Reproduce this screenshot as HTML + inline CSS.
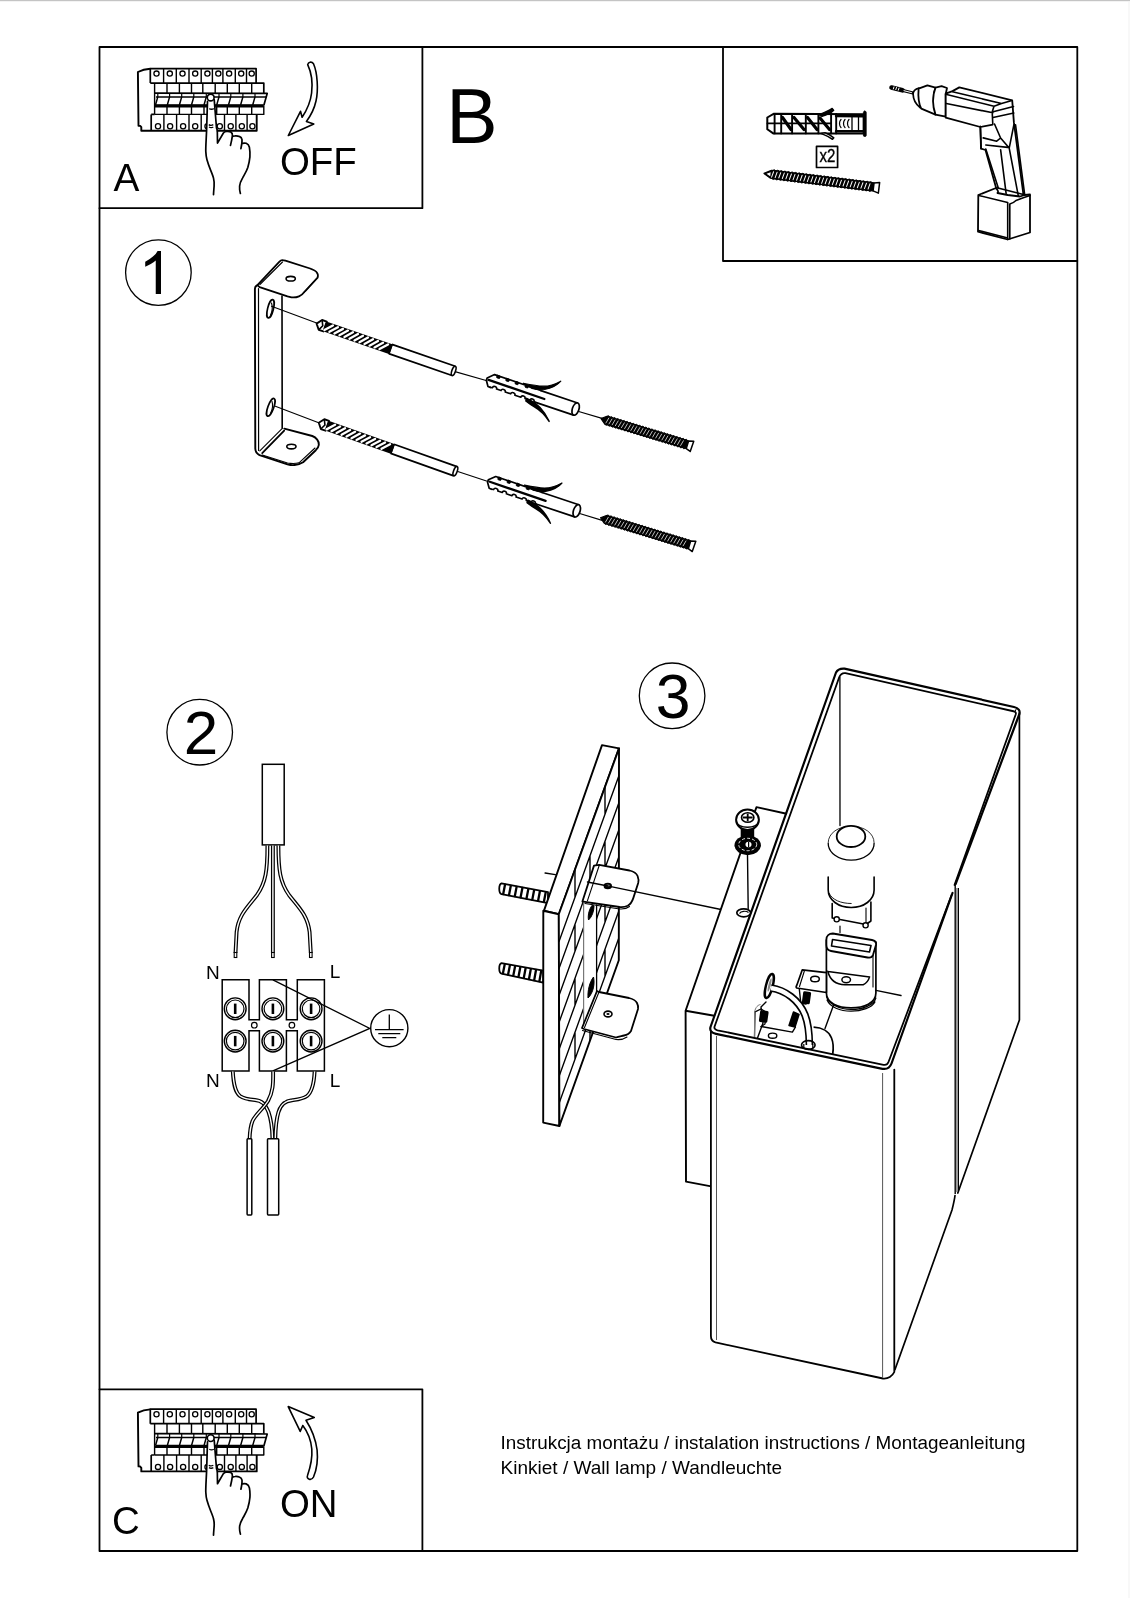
<!DOCTYPE html>
<html><head><meta charset="utf-8"><title>Instrukcja montażu</title>
<style>
html,body{margin:0;padding:0;background:#fff;}
body{width:1130px;height:1600px;overflow:hidden;position:relative;font-family:"Liberation Sans",sans-serif;}
svg{position:absolute;left:0;top:0;}
.t{font-family:"Liberation Sans",sans-serif;fill:#000;}
svg text{will-change:transform;}
</style></head>
<body>
<svg width="1130" height="1600" viewBox="0 0 1130 1600" style="opacity:0.999">
<rect x="0" y="0" width="1130" height="1600" fill="#fff"/>
<rect x="0" y="0" width="1130" height="1.2" fill="#c4c4c4"/>
<rect x="1128" y="2" width="2" height="1596" fill="#f8f8f8"/>
<g fill="none" stroke="#000" stroke-linejoin="round" stroke-linecap="round">
<!-- frames -->
<g id="frames" stroke-width="1.8">
<rect x="99.5" y="47" width="977.8" height="1504"/>
<path d="M99.5 208.2H422.4V47"/>
<path d="M723 47V261H1077.3"/>
<path d="M99.5 1389.3H422.4V1551"/>
</g>
<!-- number circles -->
<g stroke-width="1.3">
<circle cx="158.4" cy="272.6" r="32.8"/>
<circle cx="199.7" cy="732.2" r="32.8"/>
<circle cx="672.1" cy="695.8" r="32.8"/>
</g>
</g>
<g id="panel" fill="none" stroke="#000" stroke-linejoin="round">
<path stroke-width="1.9" d="M150.3,68.8 C145,69.2 141,70.5 137.9,72 L138.5,125.8 L140.2,125.9 L141.3,127.2 L141.3,130.8 L256.7,130.8 L256.7,114.4"/>
<path stroke-width="1.7" d="M150.3,83.1 L150.3,68.6 L256.1,68.6 L256.1,83.1 L263.8,83.1 L263.8,93.2 M150.3,83.1 L256.1,83.1"/>
<path stroke-width="1.4" d="M163.6,68.6 V83.1 M176.3,68.6 V83.1 M189,68.6 V83.1 M201.2,68.6 V83.1 M212.4,68.6 V83.1 M222.9,68.6 V83.1 M235.3,68.6 V83.1 M246.5,68.6 V83.1"/>
<g stroke-width="1.3"><circle cx="156.5" cy="73.6" r="2.6"/><circle cx="169.8" cy="73.6" r="2.6"/><circle cx="182.5" cy="73.6" r="2.6"/><circle cx="195.2" cy="73.6" r="2.6"/><circle cx="207.4" cy="73.6" r="2.6"/><circle cx="218.3" cy="73.6" r="2.6"/><circle cx="229.1" cy="73.6" r="2.6"/><circle cx="241.2" cy="73.6" r="2.6"/><circle cx="251.7" cy="73.6" r="2.6"/></g>
<path stroke-width="1.4" d="M154.6,83.1 V114.4 M167,83.1 V93 M179.4,83.1 V93 M191.5,83.1 V93 M202.8,83.1 V93 M215.2,83.1 V93 M227.3,83.1 V93 M239.3,83.1 V93 M251.7,83.1 V93"/>
<path stroke-width="1.7" d="M154.6,93.1 L267.2,93.4 L263.8,105.6"/>
<path stroke-width="1.5" d="M156,96.9 L266.2,97"/>
<path stroke-width="1.2" d="M157.8,93.3 V96.9 M169.6,93.3 V96.9 M181.7,93.3 V96.9 M193.8,93.3 V96.9 M206.3,93.3 V96.9 M219.0,93.3 V96.9 M230.8,93.3 V96.9 M242.9,93.3 V96.9 M255.0,93.3 V96.9"/>
<path stroke-width="2.6" d="M155,106.1 L263.8,106.1"/>
<path stroke-width="1.2" d="M156,104.8 L263.5,104.8"/>
<path stroke-width="1.5" d="M155.5,105 L157.8,96.9 M167.3,105 L169.60000000000002,96.9 M179.4,105 L181.70000000000002,96.9 M191.5,105 L193.8,96.9 M204,105 L206.3,96.9 M216.7,105 L219.0,96.9 M228.5,105 L230.8,96.9 M240.6,105 L242.9,96.9 M252.7,105 L255.0,96.9"/>
<path stroke-width="1.4" d="M154.6,114.4 L263.8,114.4 L263.8,106 M167,106.5 V114.4 M179.4,106.5 V114.4 M191.5,106.5 V114.4 M204,106.5 V114.4 M216.7,106.5 V114.4 M227.3,106.5 V114.4 M239.3,106.5 V114.4 M251.7,106.5 V114.4"/>
<path stroke-width="1.7" d="M151.2,114.4 L151.2,130.8 M151.2,114.4 L154.6,114.4"/>
<path stroke-width="1.4" d="M163.9,114.4 V130.8 M176.6,114.4 V130.8 M189,114.4 V130.8 M201.2,114.4 V130.8 M212.8,114.4 V130.8 M224.5,114.4 V130.8 M235.9,114.4 V130.8 M247.1,114.4 V130.8"/>
<g stroke-width="1.3"><circle cx="158" cy="126.3" r="2.6"/><circle cx="170.1" cy="126.3" r="2.6"/><circle cx="183.1" cy="126.3" r="2.6"/><circle cx="195.2" cy="126.3" r="2.6"/><circle cx="207.5" cy="126.3" r="2.6"/><circle cx="219.8" cy="126.3" r="2.6"/><circle cx="230.7" cy="126.3" r="2.6"/><circle cx="241.8" cy="126.3" r="2.6"/><circle cx="252.4" cy="126.3" r="2.6"/></g>
<path fill="#fff" stroke="none" d="M207.5,99 L206.6,130.3 L205.8,151.6 C205.7,156 206,158 206.9,159.5 C208,163 209,166 210.6,170.1 C212,173 213,176 213.5,178.1 C214,181 214.2,184 214.1,186.1 L213.5,196 L240.4,196 L239.6,186.1 C240,183 241,181 242.5,178.1 C244,175 246,171 247.8,167.5 C249.5,163 250,160 249.9,156.9 C250,152 250,150 249.4,147.3 C248.5,145 247.5,143.5 246.2,143.3 L242.5,143.1 L242,139.3 C241,137.5 240,136.5 239.3,136.4 L232.7,136.2 L232.4,135.1 C232,133 231.5,132 230.8,131.9 L226.6,131.6 C225,131.8 224,132.2 223.4,133 L217.5,143.1 L214.6,99 Z"/>
<path stroke-width="1.7" stroke-linecap="round" d="M207.5,101.3 L206.6,130.3 C206.2,140 205.6,148 205.8,151.6 C206,155 206.3,157.5 206.9,159.5 C208,163.5 209.2,166.7 210.6,170.1 C212,173.5 213,176 213.5,178.1 C214.2,181 214.3,184 214.1,186.1 C213.9,189 213.6,192 213.5,194.6"/>
<path stroke-width="1.7" stroke-linecap="round" d="M214.2,99.6 L216.5,128 L217.3,130.3 L217.5,143.1 L223.4,133 C224.5,131.7 225.8,131.5 226.6,131.5 C228.5,131.4 230,131.5 230.8,131.9 C232,132.6 232.6,134 232.4,135.6 C232,139 231.2,142.5 230.5,145.4"/>
<path stroke-width="1.7" stroke-linecap="round" d="M232.9,136.4 C233.5,136 234.3,135.9 235,135.9 C236.8,135.8 238.2,135.9 239.3,136.4 C240.8,137 241.8,138 242,139.6 C242.2,142 241.6,145.5 240.9,148.6"/>
<path stroke-width="1.7" stroke-linecap="round" d="M242.5,143.3 C243.8,143 245,143 246.2,143.3 C247.8,144 249,145.5 249.4,147.3 C250,150.5 250.1,154 249.9,156.9 C249.6,160.5 248.8,164 247.8,167.5 C246.5,171.5 244.5,174.5 242.5,178.1 C240.8,181 239.8,183.5 239.6,186.1 C239.4,189 239.8,191.5 240.4,193.5"/>
<circle cx="210.7" cy="97.5" r="3.4" fill="#fff" stroke-width="1.6"/>
<path stroke-width="1.3" d="M209.3,108.6 C210.5,109.3 212.5,109.3 213.8,108.6 M208.8,124.6 C210,125.4 212,125.4 213.3,124.6 M209,127 C210.3,127.8 212,127.8 213.3,127"/>
</g>
<use href="#panel" transform="translate(0,1340.6)"/>

<g fill="#fff" stroke="#000" stroke-width="1.6" stroke-linejoin="round">
<path d="M307.7,64.6 C308.3,62 311.5,61 313.5,63.8 C317.5,73 318.5,90 316,101 C314,110 310.5,116 306.4,121.4 L313.8,124.1 L288.3,135.5 L300.5,111.3 L302.1,117.2 C307,110 310.5,102 311.6,93 C312.8,83 311.2,72 307.7,64.6 Z"/>
<path d="M288.2,1406.6 L314.3,1417.5 L306,1420.2 C311,1428 315.5,1438 317.1,1450 C318.2,1461 316.5,1470 313.5,1477 C311.5,1481 306,1479.5 307.5,1475.5 C310.8,1466 312.5,1458 311.8,1449 C311,1440 307,1431 302.8,1425.5 L300.2,1431.3 Z"/>
</g>

<g fill="none" stroke="#000" stroke-linejoin="round" stroke-linecap="round">
<path fill="#fff" stroke-width="1.8" d="M257.4,285.1 L279.7,261.3 C280.5,260.4 281.2,260.1 282.2,260.1 C283.5,260.1 284.5,260.4 285.4,260.7 L310.1,268.5 C313,269.6 315.4,270.6 316.5,272 C318,273.8 318.3,275.5 317.6,277.6 L305.2,291.1 C303.5,293.5 301.5,295.3 299,296.3 C296.5,297.3 294,297.6 291.5,297.3 L287.5,296.3 L259.6,287.2 Z"/>
<path stroke-width="1.1" d="M259.9,284.5 L282.5,262 M316.3,279 L304,292.3"/>
<path stroke-width="1.9" d="M257.4,285.1 C255.8,285.8 254.9,287 254.9,289 L255.3,448.8 C255.4,451.5 257,453.8 259.5,455.1 L287.5,464.3 C290,465 292.5,465.3 294.6,465 C298,464.7 300.5,463.8 303.1,462.2 L315.8,450.2 C317.5,448.5 318.6,446.8 318.8,445 C318.9,442.7 318.3,441 317.2,439.6 C315.8,437.8 314,436.6 312.3,436 L284.3,428.6"/>
<path stroke-width="1.2" d="M258.5,288.6 L258.6,450.5"/>
<path stroke-width="1.6" d="M282,296 L282.2,428"/>
<path stroke-width="1.8" d="M262.2,453.2 L284.2,430.6"/>
<path stroke-width="1.1" d="M259.8,450.8 L282.3,428.4 M262.3,455 L287.5,463 C291,463.6 295,463.8 299,462.8 L315,448"/>
<ellipse cx="290.7" cy="278.7" rx="4.6" ry="2.3" stroke-width="1.6"/>
<ellipse cx="291.4" cy="446.6" rx="4.6" ry="2.3" stroke-width="1.6"/>
<ellipse cx="270.5" cy="308.8" rx="2.9" ry="9.4" transform="rotate(14 270.5 308.8)" stroke-width="1.7"/>
<ellipse cx="270.8" cy="407.3" rx="2.9" ry="9.4" transform="rotate(20 270.8 407.3)" stroke-width="1.7"/>
<path stroke-width="1.1" d="M271.5,303 C272.5,306 272.3,311 270.6,315 M272,401.5 C273,404.5 272.5,409 270.7,413"/>
<path stroke-width="1.1" d="M271.5,306.2 L318,323.6 M274.7,405.9 L320,423.3 M455,371.6 L487,380.8 M457,471.3 L488,481.5 M577,411 L602,418.4 M578,513 L603,520.6"/>
</g>
<g transform="translate(316.6,323.6) rotate(19.03)">
<path d="M0,0 L4,-5.2 L9,-5.2 L9,5.2 L4,5.2 Z" fill="#fff" stroke="#000" stroke-width="1.9" stroke-linejoin="round"/>
<path d="M4,-5.2 L6.5,0 L4,5.2" fill="none" stroke="#000" stroke-width="1.6"/>
<rect x="8.5" y="-5.2" width="70.5" height="10.4" fill="#000"/>
<path d="M9.5,3.6 L16.0,-3.6 M14.8,3.6 L21.3,-3.6 M20.1,3.6 L26.6,-3.6 M25.4,3.6 L31.9,-3.6 M30.7,3.6 L37.2,-3.6 M36.0,3.6 L42.5,-3.6 M41.3,3.6 L47.8,-3.6 M46.6,3.6 L53.1,-3.6 M51.9,3.6 L58.4,-3.6 M57.2,3.6 L63.7,-3.6 M62.5,3.6 L69.0,-3.6 M67.8,3.6 L74.3,-3.6" stroke="#fff" stroke-width="2.3" stroke-linecap="round"/>
<path d="M78.0,-4.9 L78.0,4.9" stroke="#000" stroke-width="1.6"/>
<path d="M78.0,-4.9 L145.0,-4.9 M78.0,4.9 L145.0,4.9" stroke="#000" stroke-width="1.8"/>
<ellipse cx="145.0" cy="0" rx="1.8" ry="4.9" fill="#fff" stroke="#000" stroke-width="1.6"/>
</g>
<g transform="translate(318.8,422.8) rotate(19.51)">
<path d="M0,0 L4,-5.2 L9,-5.2 L9,5.2 L4,5.2 Z" fill="#fff" stroke="#000" stroke-width="1.9" stroke-linejoin="round"/>
<path d="M4,-5.2 L6.5,0 L4,5.2" fill="none" stroke="#000" stroke-width="1.6"/>
<rect x="8.5" y="-5.2" width="70.5" height="10.4" fill="#000"/>
<path d="M9.5,3.6 L16.0,-3.6 M14.8,3.6 L21.3,-3.6 M20.1,3.6 L26.6,-3.6 M25.4,3.6 L31.9,-3.6 M30.7,3.6 L37.2,-3.6 M36.0,3.6 L42.5,-3.6 M41.3,3.6 L47.8,-3.6 M46.6,3.6 L53.1,-3.6 M51.9,3.6 L58.4,-3.6 M57.2,3.6 L63.7,-3.6 M62.5,3.6 L69.0,-3.6 M67.8,3.6 L74.3,-3.6" stroke="#fff" stroke-width="2.3" stroke-linecap="round"/>
<path d="M78.0,-4.9 L78.0,4.9" stroke="#000" stroke-width="1.6"/>
<path d="M78.0,-4.9 L144.9,-4.9 M78.0,4.9 L144.9,4.9" stroke="#000" stroke-width="1.8"/>
<ellipse cx="144.9" cy="0" rx="1.8" ry="4.9" fill="#fff" stroke="#000" stroke-width="1.6"/>
</g>
<g transform="translate(486.5,379.8) rotate(18.53)" stroke="#000" stroke-linejoin="round" stroke-linecap="round">
<path d="M55,-7.0 L93.8,-7.0 M53,5.8 L93.8,5.8" fill="none" stroke-width="1.7"/>
<ellipse cx="93.8" cy="-0.60" rx="3.3" ry="6.40" fill="#fff" stroke-width="1.7"/>
<path d="M6,6 L3.5,5.8 L0,0.5 L0,-2 L6,-7.5 L55,-7.1" fill="none" stroke-width="1.7"/>
<rect x="8.7" y="-7.9" width="3.4" height="2.7" rx="0.8" fill="#000" stroke-width="0.8"/><rect x="18.4" y="-7.9" width="3.4" height="2.7" rx="0.8" fill="#000" stroke-width="0.8"/><rect x="28.1" y="-7.9" width="3.4" height="2.7" rx="0.8" fill="#000" stroke-width="0.8"/><rect x="38.6" y="-7.9" width="3.4" height="2.7" rx="0.8" fill="#000" stroke-width="0.8"/>
<path d="M6,6 L8.1,5.6 C8.1,3 12.5,3 12.5,5.6 L17.2,5.6 C17.2,3 21.6,3 21.6,5.6 L27.4,5.6 C27.4,3 31.8,3 31.8,5.6 L38.1,5.6 C38.1,3 42.5,3 42.5,5.6 L47.6,5.6 C47.6,3 52.0,3 52.0,5.6 L53,5.8" fill="none" stroke-width="1.6"/>
<path d="M2,-0.6 L61,-0.2" stroke-width="2.3" fill="none"/>
<path d="M36,-8.4 C45,-9.5 50,-10.2 56,-12 C62,-14 67,-18 70.9,-22.3 C68.5,-16.5 64,-12.5 58,-9.2 C54,-7.2 50,-6.4 46,-6.3 Z" fill="#000" stroke-width="1.2"/>
<path d="M44,4.8 C53,5.5 63,9 72.6,19.5 C66,14 60,11.5 54,10.3 C50,9.6 47,8.6 44,7.5 Z" fill="#000" stroke-width="1.5"/>
</g>
<g transform="translate(487.7,481.7) rotate(18.47)" stroke="#000" stroke-linejoin="round" stroke-linecap="round">
<path d="M55,-7.0 L93.7,-7.0 M53,5.8 L93.7,5.8" fill="none" stroke-width="1.7"/>
<ellipse cx="93.7" cy="-0.60" rx="3.3" ry="6.40" fill="#fff" stroke-width="1.7"/>
<path d="M6,6 L3.5,5.8 L0,0.5 L0,-2 L6,-7.5 L55,-7.1" fill="none" stroke-width="1.7"/>
<rect x="8.7" y="-7.9" width="3.4" height="2.7" rx="0.8" fill="#000" stroke-width="0.8"/><rect x="18.4" y="-7.9" width="3.4" height="2.7" rx="0.8" fill="#000" stroke-width="0.8"/><rect x="28.1" y="-7.9" width="3.4" height="2.7" rx="0.8" fill="#000" stroke-width="0.8"/><rect x="38.6" y="-7.9" width="3.4" height="2.7" rx="0.8" fill="#000" stroke-width="0.8"/>
<path d="M6,6 L8.1,5.6 C8.1,3 12.5,3 12.5,5.6 L17.2,5.6 C17.2,3 21.6,3 21.6,5.6 L27.4,5.6 C27.4,3 31.8,3 31.8,5.6 L38.1,5.6 C38.1,3 42.5,3 42.5,5.6 L47.6,5.6 C47.6,3 52.0,3 52.0,5.6 L53,5.8" fill="none" stroke-width="1.6"/>
<path d="M2,-0.6 L61,-0.2" stroke-width="2.3" fill="none"/>
<path d="M36,-8.4 C45,-9.5 50,-10.2 56,-12 C62,-14 67,-18 70.9,-22.3 C68.5,-16.5 64,-12.5 58,-9.2 C54,-7.2 50,-6.4 46,-6.3 Z" fill="#000" stroke-width="1.2"/>
<path d="M44,4.8 C53,5.5 63,9 72.6,19.5 C66,14 60,11.5 54,10.3 C50,9.6 47,8.6 44,7.5 Z" fill="#000" stroke-width="1.5"/>
</g>
<g transform="translate(601.0,418.6) rotate(16.84)">
<path d="M0,0 L5,-4.0 L90.3,-4.0 L90.3,4.0 L5,4.0 Z" fill="#000" stroke="#000" stroke-width="1.1" stroke-linejoin="round"/>
<path d="M6.0,2.7 L7.3,-2.7 M9.2,2.7 L10.6,-2.7 M12.5,2.7 L13.8,-2.7 M15.8,2.7 L17.1,-2.7 M19.0,2.7 L20.3,-2.7 M22.2,2.7 L23.6,-2.7 M25.5,2.7 L26.8,-2.7 M28.8,2.7 L30.1,-2.7 M32.0,2.7 L33.3,-2.7 M35.2,2.7 L36.5,-2.7 M38.5,2.7 L39.8,-2.7 M41.8,2.7 L43.0,-2.7 M45.0,2.7 L46.3,-2.7 M48.2,2.7 L49.5,-2.7 M51.5,2.7 L52.8,-2.7 M54.8,2.7 L56.0,-2.7 M58.0,2.7 L59.3,-2.7 M61.2,2.7 L62.5,-2.7 M64.5,2.7 L65.8,-2.7 M67.8,2.7 L69.0,-2.7 M71.0,2.7 L72.3,-2.7 M74.2,2.7 L75.5,-2.7 M77.5,2.7 L78.8,-2.7 M80.8,2.7 L82.0,-2.7 M84.0,2.7 L85.3,-2.7" stroke="#fff" stroke-width="0.8" stroke-linecap="round" opacity="0.85"/>
<path d="M5.0,-4.0 l1.6,-1 l1.6,1 M5.0,4.0 l1.6,1 l1.6,-1 M8.2,-4.0 l1.6,-1 l1.6,1 M8.2,4.0 l1.6,1 l1.6,-1 M11.5,-4.0 l1.6,-1 l1.6,1 M11.5,4.0 l1.6,1 l1.6,-1 M14.8,-4.0 l1.6,-1 l1.6,1 M14.8,4.0 l1.6,1 l1.6,-1 M18.0,-4.0 l1.6,-1 l1.6,1 M18.0,4.0 l1.6,1 l1.6,-1 M21.2,-4.0 l1.6,-1 l1.6,1 M21.2,4.0 l1.6,1 l1.6,-1 M24.5,-4.0 l1.6,-1 l1.6,1 M24.5,4.0 l1.6,1 l1.6,-1 M27.8,-4.0 l1.6,-1 l1.6,1 M27.8,4.0 l1.6,1 l1.6,-1 M31.0,-4.0 l1.6,-1 l1.6,1 M31.0,4.0 l1.6,1 l1.6,-1 M34.2,-4.0 l1.6,-1 l1.6,1 M34.2,4.0 l1.6,1 l1.6,-1 M37.5,-4.0 l1.6,-1 l1.6,1 M37.5,4.0 l1.6,1 l1.6,-1 M40.8,-4.0 l1.6,-1 l1.6,1 M40.8,4.0 l1.6,1 l1.6,-1 M44.0,-4.0 l1.6,-1 l1.6,1 M44.0,4.0 l1.6,1 l1.6,-1 M47.2,-4.0 l1.6,-1 l1.6,1 M47.2,4.0 l1.6,1 l1.6,-1 M50.5,-4.0 l1.6,-1 l1.6,1 M50.5,4.0 l1.6,1 l1.6,-1 M53.8,-4.0 l1.6,-1 l1.6,1 M53.8,4.0 l1.6,1 l1.6,-1 M57.0,-4.0 l1.6,-1 l1.6,1 M57.0,4.0 l1.6,1 l1.6,-1 M60.2,-4.0 l1.6,-1 l1.6,1 M60.2,4.0 l1.6,1 l1.6,-1 M63.5,-4.0 l1.6,-1 l1.6,1 M63.5,4.0 l1.6,1 l1.6,-1 M66.8,-4.0 l1.6,-1 l1.6,1 M66.8,4.0 l1.6,1 l1.6,-1 M70.0,-4.0 l1.6,-1 l1.6,1 M70.0,4.0 l1.6,1 l1.6,-1 M73.2,-4.0 l1.6,-1 l1.6,1 M73.2,4.0 l1.6,1 l1.6,-1 M76.5,-4.0 l1.6,-1 l1.6,1 M76.5,4.0 l1.6,1 l1.6,-1 M79.8,-4.0 l1.6,-1 l1.6,1 M79.8,4.0 l1.6,1 l1.6,-1 M83.0,-4.0 l1.6,-1 l1.6,1 M83.0,4.0 l1.6,1 l1.6,-1 M86.2,-4.0 l1.6,-1 l1.6,1 M86.2,4.0 l1.6,1 l1.6,-1" fill="#000" stroke="#000" stroke-width="0.8" stroke-linejoin="round"/>
<path d="M90.3,-4.0 L95.3,-5.3 L94.9,5.6 L90.3,4.0 Z" fill="#fff" stroke="#000" stroke-width="1.5" stroke-linejoin="round"/>
</g>
<g transform="translate(600.5,517.8) rotate(16.90)">
<path d="M0,0 L5,-4.0 L93.0,-4.0 L93.0,4.0 L5,4.0 Z" fill="#000" stroke="#000" stroke-width="1.1" stroke-linejoin="round"/>
<path d="M6.0,2.7 L7.3,-2.7 M9.2,2.7 L10.6,-2.7 M12.5,2.7 L13.8,-2.7 M15.8,2.7 L17.1,-2.7 M19.0,2.7 L20.3,-2.7 M22.2,2.7 L23.6,-2.7 M25.5,2.7 L26.8,-2.7 M28.8,2.7 L30.1,-2.7 M32.0,2.7 L33.3,-2.7 M35.2,2.7 L36.5,-2.7 M38.5,2.7 L39.8,-2.7 M41.8,2.7 L43.0,-2.7 M45.0,2.7 L46.3,-2.7 M48.2,2.7 L49.5,-2.7 M51.5,2.7 L52.8,-2.7 M54.8,2.7 L56.0,-2.7 M58.0,2.7 L59.3,-2.7 M61.2,2.7 L62.5,-2.7 M64.5,2.7 L65.8,-2.7 M67.8,2.7 L69.0,-2.7 M71.0,2.7 L72.3,-2.7 M74.2,2.7 L75.5,-2.7 M77.5,2.7 L78.8,-2.7 M80.8,2.7 L82.0,-2.7 M84.0,2.7 L85.3,-2.7 M87.2,2.7 L88.5,-2.7" stroke="#fff" stroke-width="0.8" stroke-linecap="round" opacity="0.85"/>
<path d="M5.0,-4.0 l1.6,-1 l1.6,1 M5.0,4.0 l1.6,1 l1.6,-1 M8.2,-4.0 l1.6,-1 l1.6,1 M8.2,4.0 l1.6,1 l1.6,-1 M11.5,-4.0 l1.6,-1 l1.6,1 M11.5,4.0 l1.6,1 l1.6,-1 M14.8,-4.0 l1.6,-1 l1.6,1 M14.8,4.0 l1.6,1 l1.6,-1 M18.0,-4.0 l1.6,-1 l1.6,1 M18.0,4.0 l1.6,1 l1.6,-1 M21.2,-4.0 l1.6,-1 l1.6,1 M21.2,4.0 l1.6,1 l1.6,-1 M24.5,-4.0 l1.6,-1 l1.6,1 M24.5,4.0 l1.6,1 l1.6,-1 M27.8,-4.0 l1.6,-1 l1.6,1 M27.8,4.0 l1.6,1 l1.6,-1 M31.0,-4.0 l1.6,-1 l1.6,1 M31.0,4.0 l1.6,1 l1.6,-1 M34.2,-4.0 l1.6,-1 l1.6,1 M34.2,4.0 l1.6,1 l1.6,-1 M37.5,-4.0 l1.6,-1 l1.6,1 M37.5,4.0 l1.6,1 l1.6,-1 M40.8,-4.0 l1.6,-1 l1.6,1 M40.8,4.0 l1.6,1 l1.6,-1 M44.0,-4.0 l1.6,-1 l1.6,1 M44.0,4.0 l1.6,1 l1.6,-1 M47.2,-4.0 l1.6,-1 l1.6,1 M47.2,4.0 l1.6,1 l1.6,-1 M50.5,-4.0 l1.6,-1 l1.6,1 M50.5,4.0 l1.6,1 l1.6,-1 M53.8,-4.0 l1.6,-1 l1.6,1 M53.8,4.0 l1.6,1 l1.6,-1 M57.0,-4.0 l1.6,-1 l1.6,1 M57.0,4.0 l1.6,1 l1.6,-1 M60.2,-4.0 l1.6,-1 l1.6,1 M60.2,4.0 l1.6,1 l1.6,-1 M63.5,-4.0 l1.6,-1 l1.6,1 M63.5,4.0 l1.6,1 l1.6,-1 M66.8,-4.0 l1.6,-1 l1.6,1 M66.8,4.0 l1.6,1 l1.6,-1 M70.0,-4.0 l1.6,-1 l1.6,1 M70.0,4.0 l1.6,1 l1.6,-1 M73.2,-4.0 l1.6,-1 l1.6,1 M73.2,4.0 l1.6,1 l1.6,-1 M76.5,-4.0 l1.6,-1 l1.6,1 M76.5,4.0 l1.6,1 l1.6,-1 M79.8,-4.0 l1.6,-1 l1.6,1 M79.8,4.0 l1.6,1 l1.6,-1 M83.0,-4.0 l1.6,-1 l1.6,1 M83.0,4.0 l1.6,1 l1.6,-1 M86.2,-4.0 l1.6,-1 l1.6,1 M86.2,4.0 l1.6,1 l1.6,-1 M89.5,-4.0 l1.6,-1 l1.6,1 M89.5,4.0 l1.6,1 l1.6,-1" fill="#000" stroke="#000" stroke-width="0.8" stroke-linejoin="round"/>
<path d="M93.0,-4.0 L98.0,-5.3 L97.6,5.6 L93.0,4.0 Z" fill="#fff" stroke="#000" stroke-width="1.5" stroke-linejoin="round"/>
</g>
<g fill="none" stroke="#000" stroke-linejoin="round" stroke-linecap="round">
<path fill="#fff" stroke-width="2" d="M767.3,117.5 L773.6,113.8 L863.7,114.2 L863.7,133.4 L773.6,133.6 L767.3,129.2 Z"/>
<rect x="863.4" y="111.2" width="2.8" height="25.3" rx="1.2" fill="#000" stroke-width="0.8"/>
<path stroke-width="1.9" d="M767.5,123.4 L831,123.4 M774.6,114 V133.4 M781.2,114 V133.4 M792.1,114 V133.4 M805.8,114 V133.4 M818.4,114 V133.4 M831.1,114 V133.4 M836.2,114 V133.4"/>
<path stroke-width="3.2" d="M782.5,117.5 L791,129.5 M794,117.5 L804,129.5 M807.5,117.5 L817,129.5 M820,118 L829.5,129.5"/>
<path stroke-width="2.4" d="M836,116 L863,116.3 M836,131.3 L863,131.2"/>
<path stroke-width="1.3" d="M852,116.5 L852,131 M858.5,116.5 L858.5,131"/>
<path stroke-width="1.2" d="M841,119.5 C839,121.5 839,125.5 841,127.5 M845,119.5 C843,121.5 843,125.5 845,127.5 M849,119.5 C847,121.5 847,125.5 849,127.5"/>
<path fill="#000" stroke-width="1.2" d="M818.5,114.5 C824,112.8 829,110.8 832.2,108.3 L833.8,110.3 C831,113 827,115 822,116.5 Z"/>
<path fill="#fff" stroke-width="1.5" d="M821,133.4 C825,135 829,136.8 832.5,139.3 L833.8,137.8 C831,135.5 828,133.8 825,132.8 Z"/>
<rect x="816.5" y="146.4" width="21.1" height="21.1" stroke-width="1.7"/>
</g>
<text x="819.6" y="162" font-family="Liberation Sans, sans-serif" font-size="17.5" transform="translate(819.6 0) scale(0.86 1) translate(-819.6 0)" stroke="#000" stroke-width="0.35" fill="#000">x2</text>
<g transform="translate(764 173.4) rotate(7.04)">
<path d="M0,0 L7,-4.0 L110.4,-4.0 L110.4,4.0 L7,4.0 Z" fill="#000" stroke="#000" stroke-width="1.2" stroke-linejoin="round"/>
<path d="M2.5,0 L6.5,-2 L6.5,2 Z" fill="#fff"/>
<path d="M8.0,2.8 L9.3,-2.8 M11.6,2.8 L12.9,-2.8 M15.2,2.8 L16.5,-2.8 M18.8,2.8 L20.1,-2.8 M22.4,2.8 L23.7,-2.8 M26.0,2.8 L27.3,-2.8 M29.6,2.8 L30.9,-2.8 M33.2,2.8 L34.5,-2.8 M36.8,2.8 L38.1,-2.8 M40.4,2.8 L41.7,-2.8 M44.0,2.8 L45.3,-2.8 M47.6,2.8 L48.9,-2.8 M51.2,2.8 L52.5,-2.8 M54.8,2.8 L56.1,-2.8 M58.4,2.8 L59.7,-2.8 M62.0,2.8 L63.3,-2.8 M65.6,2.8 L66.9,-2.8 M69.2,2.8 L70.5,-2.8 M72.8,2.8 L74.1,-2.8 M76.4,2.8 L77.7,-2.8 M80.0,2.8 L81.3,-2.8 M83.6,2.8 L84.9,-2.8 M87.2,2.8 L88.5,-2.8 M90.8,2.8 L92.1,-2.8 M94.4,2.8 L95.7,-2.8 M98.0,2.8 L99.3,-2.8 M101.6,2.8 L102.9,-2.8 M105.2,2.8 L106.5,-2.8" stroke="#fff" stroke-width="1" stroke-linecap="round"/>
<path d="M8.0,-4.0 l1.8,-0.9 l1.8,0.9 M8.0,4.0 l1.8,0.9 l1.8,-0.9 M11.6,-4.0 l1.8,-0.9 l1.8,0.9 M11.6,4.0 l1.8,0.9 l1.8,-0.9 M15.2,-4.0 l1.8,-0.9 l1.8,0.9 M15.2,4.0 l1.8,0.9 l1.8,-0.9 M18.8,-4.0 l1.8,-0.9 l1.8,0.9 M18.8,4.0 l1.8,0.9 l1.8,-0.9 M22.4,-4.0 l1.8,-0.9 l1.8,0.9 M22.4,4.0 l1.8,0.9 l1.8,-0.9 M26.0,-4.0 l1.8,-0.9 l1.8,0.9 M26.0,4.0 l1.8,0.9 l1.8,-0.9 M29.6,-4.0 l1.8,-0.9 l1.8,0.9 M29.6,4.0 l1.8,0.9 l1.8,-0.9 M33.2,-4.0 l1.8,-0.9 l1.8,0.9 M33.2,4.0 l1.8,0.9 l1.8,-0.9 M36.8,-4.0 l1.8,-0.9 l1.8,0.9 M36.8,4.0 l1.8,0.9 l1.8,-0.9 M40.4,-4.0 l1.8,-0.9 l1.8,0.9 M40.4,4.0 l1.8,0.9 l1.8,-0.9 M44.0,-4.0 l1.8,-0.9 l1.8,0.9 M44.0,4.0 l1.8,0.9 l1.8,-0.9 M47.6,-4.0 l1.8,-0.9 l1.8,0.9 M47.6,4.0 l1.8,0.9 l1.8,-0.9 M51.2,-4.0 l1.8,-0.9 l1.8,0.9 M51.2,4.0 l1.8,0.9 l1.8,-0.9 M54.8,-4.0 l1.8,-0.9 l1.8,0.9 M54.8,4.0 l1.8,0.9 l1.8,-0.9 M58.4,-4.0 l1.8,-0.9 l1.8,0.9 M58.4,4.0 l1.8,0.9 l1.8,-0.9 M62.0,-4.0 l1.8,-0.9 l1.8,0.9 M62.0,4.0 l1.8,0.9 l1.8,-0.9 M65.6,-4.0 l1.8,-0.9 l1.8,0.9 M65.6,4.0 l1.8,0.9 l1.8,-0.9 M69.2,-4.0 l1.8,-0.9 l1.8,0.9 M69.2,4.0 l1.8,0.9 l1.8,-0.9 M72.8,-4.0 l1.8,-0.9 l1.8,0.9 M72.8,4.0 l1.8,0.9 l1.8,-0.9 M76.4,-4.0 l1.8,-0.9 l1.8,0.9 M76.4,4.0 l1.8,0.9 l1.8,-0.9 M80.0,-4.0 l1.8,-0.9 l1.8,0.9 M80.0,4.0 l1.8,0.9 l1.8,-0.9 M83.6,-4.0 l1.8,-0.9 l1.8,0.9 M83.6,4.0 l1.8,0.9 l1.8,-0.9 M87.2,-4.0 l1.8,-0.9 l1.8,0.9 M87.2,4.0 l1.8,0.9 l1.8,-0.9 M90.8,-4.0 l1.8,-0.9 l1.8,0.9 M90.8,4.0 l1.8,0.9 l1.8,-0.9 M94.4,-4.0 l1.8,-0.9 l1.8,0.9 M94.4,4.0 l1.8,0.9 l1.8,-0.9 M98.0,-4.0 l1.8,-0.9 l1.8,0.9 M98.0,4.0 l1.8,0.9 l1.8,-0.9 M101.6,-4.0 l1.8,-0.9 l1.8,0.9 M101.6,4.0 l1.8,0.9 l1.8,-0.9 M105.2,-4.0 l1.8,-0.9 l1.8,0.9 M105.2,4.0 l1.8,0.9 l1.8,-0.9" stroke="#000" stroke-width="0.9" fill="#000"/>
<path d="M110.4,-4.0 L115.9,-5.2 L115.9,5.6 L110.4,4.0 Z" fill="#fff" stroke="#000" stroke-width="1.5" stroke-linejoin="round"/>
</g>
<g fill="none" stroke="#000" stroke-linejoin="round" stroke-linecap="round">
<path stroke-width="4.6" d="M891.5,87.6 L902.5,90.3"/>
<path stroke="#fff" stroke-width="1" d="M894,86.9 L893.3,89 M896.5,87.5 L895.8,89.6 M899,88.1 L898.3,90.2"/>
<path stroke-width="3.2" d="M902,90.2 L913,93"/>
<path stroke="#fff" stroke-width="1" d="M904,90.7 L911.5,92.6"/>
<path fill="#fff" stroke-width="1.7" d="M919,88.2 C915.5,89 913.2,91 913.1,94 C913.2,99 916,104.5 920.3,107.8 Z"/>
<path fill="#fff" stroke-width="1.8" d="M918.6,88.6 L927.4,85.3 L935.5,87.7 C933,93 932.5,100 935.5,114.6 L921.3,108.6 C918.8,104 918,96 918.6,88.6 Z"/>
<path fill="#fff" stroke-width="1.8" d="M935.5,87.7 L941.6,86.1 L947,88 L945.7,94.3 L945.7,116.7 L935.5,114.6 C932.5,106 932.3,96 935.5,87.7 Z"/>
<path fill="#fff" stroke-width="1.8" d="M945.7,93.6 L952.5,91.1 L959.3,87.4 L1012.2,100.3 L1013.9,122.4 L1023.4,194.5 L996,187.5 L985.5,150 L981,148.5 L980.4,127 L945.7,117.7 Z"/>
<path stroke-width="1.6" d="M952.5,91.7 L1001.5,103.5 L1012,100.5 M945.7,94.2 L994,106.3 L1001.5,103.5 M946.3,103.5 L992.8,112.8 M994,106.3 L992.2,112 L992.8,124.6 L980.4,127 M992.2,112 L1013.5,106.5 M993,117.5 L1013.8,113"/>
<path stroke-width="1.6" d="M980.3,126.3 L981.1,148.9 M983.2,137.9 L996.7,141.2 L1000.6,138 M985.8,145 L1007.7,147.4 M985.8,149 L998.3,188 M1000.6,149.7 L1006.1,193.4 M1009.2,148.1 L1018.6,197.3 M1015.5,124.7 L1024.6,194.2 M994.5,124 L1000.6,138 L1009.2,148.1 L1013.9,124.7"/>
<path fill="#fff" stroke-width="1.8" d="M978.3,195 L996,188 C998,190 998.5,192 997.5,193 L1007.7,195 L1020,196.5 L1024.5,195 L1030,194.5 L1030,232.5 L1007.7,239.5 L978,231.7 Z"/>
<path stroke-width="1.6" d="M978.8,195.5 L1007.7,202.5 L1007.7,239.5 M1009.8,204 C1012,203.5 1014,202.5 1016,200.5 L1024,197.5 L1030,195.5 M1009.8,204 L1009.8,239 M978.5,230.5 L1007.7,238"/>
</g>
<rect x="262.3" y="764.3" width="21.9" height="80.6" fill="#fff" stroke="#000" stroke-width="1.5"/>
<path d="M267.4,845.5 C267.4,870 266,882 257,895 C247,908 238.5,915 236.6,932 L235.5,953" stroke="#000" stroke-width="3.9" fill="none" stroke-linecap="butt" stroke-linejoin="round"/><path d="M267.4,845.5 C267.4,870 266,882 257,895 C247,908 238.5,915 236.6,932 L235.5,953" stroke="#fff" stroke-width="1.4" fill="none" stroke-linecap="butt" stroke-linejoin="round"/>
<path d="M272.9,845.5 L272.9,953" stroke="#000" stroke-width="3.9" fill="none" stroke-linecap="butt" stroke-linejoin="round"/><path d="M272.9,845.5 L272.9,953" stroke="#fff" stroke-width="1.4" fill="none" stroke-linecap="butt" stroke-linejoin="round"/>
<path d="M278.4,845.5 C278.4,870 280,882 289,895 C299,908 307.5,915 309.6,932 L310.8,953" stroke="#000" stroke-width="3.9" fill="none" stroke-linecap="butt" stroke-linejoin="round"/><path d="M278.4,845.5 C278.4,870 280,882 289,895 C299,908 307.5,915 309.6,932 L310.8,953" stroke="#fff" stroke-width="1.4" fill="none" stroke-linecap="butt" stroke-linejoin="round"/>
<g fill="#fff" stroke="#000" stroke-width="1.1"><rect x="234.2" y="952.5" width="2.6" height="5"/><rect x="271.6" y="952.5" width="2.6" height="5"/><rect x="309.5" y="952.5" width="2.6" height="5"/></g>
<path fill="#fff" stroke="#000" stroke-width="1.5" stroke-linejoin="miter" d="M222.2,979.8 H249 V1019.7 H259.4 V979.8 H286.4 V1019.7 H297.3 V979.8 H324.4 V1070.9 H297.3 V1030.7 H286.4 V1070.9 H259.4 V1030.7 H249 V1070.9 H222.2 Z"/>
<g fill="#fff" stroke="#000" stroke-width="1.2"><circle cx="254.3" cy="1025.2" r="2.8"/><circle cx="291.9" cy="1025.2" r="2.8"/></g>
<circle cx="235.2" cy="1008.8" r="10.9" fill="#fff" stroke="#000" stroke-width="1.4"/><circle cx="235.2" cy="1008.8" r="8.8" fill="none" stroke="#000" stroke-width="1.2"/><path d="M235.2,1003.5999999999999 V1014.0" stroke="#000" stroke-width="2.6"/><circle cx="235.2" cy="1041.1" r="10.9" fill="#fff" stroke="#000" stroke-width="1.4"/><circle cx="235.2" cy="1041.1" r="8.8" fill="none" stroke="#000" stroke-width="1.2"/><path d="M235.2,1035.8999999999999 V1046.3" stroke="#000" stroke-width="2.6"/><circle cx="272.9" cy="1008.8" r="10.9" fill="#fff" stroke="#000" stroke-width="1.4"/><circle cx="272.9" cy="1008.8" r="8.8" fill="none" stroke="#000" stroke-width="1.2"/><path d="M272.9,1003.5999999999999 V1014.0" stroke="#000" stroke-width="2.6"/><circle cx="272.9" cy="1041.1" r="10.9" fill="#fff" stroke="#000" stroke-width="1.4"/><circle cx="272.9" cy="1041.1" r="8.8" fill="none" stroke="#000" stroke-width="1.2"/><path d="M272.9,1035.8999999999999 V1046.3" stroke="#000" stroke-width="2.6"/><circle cx="311.1" cy="1008.8" r="10.9" fill="#fff" stroke="#000" stroke-width="1.4"/><circle cx="311.1" cy="1008.8" r="8.8" fill="none" stroke="#000" stroke-width="1.2"/><path d="M311.1,1003.5999999999999 V1014.0" stroke="#000" stroke-width="2.6"/><circle cx="311.1" cy="1041.1" r="10.9" fill="#fff" stroke="#000" stroke-width="1.4"/><circle cx="311.1" cy="1041.1" r="8.8" fill="none" stroke="#000" stroke-width="1.2"/><path d="M311.1,1035.8999999999999 V1046.3" stroke="#000" stroke-width="2.6"/>
<path d="M272.9,979.8 L369.8,1028.4 L272.9,1070.9" fill="none" stroke="#000" stroke-width="1.3"/>
<circle cx="389.3" cy="1028.2" r="18.6" fill="#fff" stroke="#000" stroke-width="1.4"/>
<path d="M389.3,1014.5 V1029.5 M375,1029.7 H403.6 M378.3,1033.7 H400.3 M382.3,1037.7 H396.3" stroke="#000" stroke-width="1.3" fill="none"/>
<path d="M232.8,1071.5 C233.5,1084 235,1092 240,1096 C244,1099 249,1099.5 255,1100 C262,1100.5 265,1104 268.5,1112 C271,1119 272.3,1128 272.5,1139" stroke="#000" stroke-width="3.9" fill="none" stroke-linecap="butt" stroke-linejoin="round"/><path d="M232.8,1071.5 C233.5,1084 235,1092 240,1096 C244,1099 249,1099.5 255,1100 C262,1100.5 265,1104 268.5,1112 C271,1119 272.3,1128 272.5,1139" stroke="#fff" stroke-width="1.4" fill="none" stroke-linecap="butt" stroke-linejoin="round"/>
<path d="M273.1,1071.5 C273.3,1084 273,1092 268,1101 C263,1109 256,1114 252.5,1121 C250.5,1126 249.8,1132 249.6,1139" stroke="#000" stroke-width="3.9" fill="none" stroke-linecap="butt" stroke-linejoin="round"/><path d="M273.1,1071.5 C273.3,1084 273,1092 268,1101 C263,1109 256,1114 252.5,1121 C250.5,1126 249.8,1132 249.6,1139" stroke="#fff" stroke-width="1.4" fill="none" stroke-linecap="butt" stroke-linejoin="round"/>
<path d="M314.6,1071.5 C314,1084 312,1092 307,1096 C303,1099 298,1099.5 292,1100.3 C285,1101 281,1104 278.5,1112 C276.3,1119 275.5,1128 275.3,1139" stroke="#000" stroke-width="3.9" fill="none" stroke-linecap="butt" stroke-linejoin="round"/><path d="M314.6,1071.5 C314,1084 312,1092 307,1096 C303,1099 298,1099.5 292,1100.3 C285,1101 281,1104 278.5,1112 C276.3,1119 275.5,1128 275.3,1139" stroke="#fff" stroke-width="1.4" fill="none" stroke-linecap="butt" stroke-linejoin="round"/>
<g fill="#fff" stroke="#000" stroke-width="1.5"><rect x="247.1" y="1138.7" width="4.7" height="76.2" rx="0.8"/><rect x="267.5" y="1138.7" width="11.2" height="76.2" rx="0.8"/></g>
<g font-family="Liberation Sans, sans-serif" font-size="19" fill="#000"><text x="206.1" y="978.6">N</text><text x="329.7" y="978.4">L</text><text x="206.1" y="1087.4">N</text><text x="329.7" y="1087.4">L</text></g>
<defs><clipPath id="sideclip"><path d="M559,914.2 L619,748.4 L618.8,960.2 L559.5,1126 Z"/></clipPath></defs>
<path d="M501.5,883.3 L548,892.2 L548,903.2 L501.5,894.2 C498.5,893.2 498.5,884.3 501.5,883.3 Z" fill="#fff" stroke="#000" stroke-width="1.8" stroke-linejoin="round"/><path d="M503.2,894.0 L505.0,884.7 M509.0,895.1 L510.8,885.8 M514.8,896.2 L516.6,886.9 M520.6,897.3 L522.4,888.0 M526.5,898.5 L528.3,889.1 M532.3,899.6 L534.1,890.2 M538.1,900.7 L539.9,891.3 M543.9,901.8 L545.7,892.4" stroke="#000" stroke-width="2.3" stroke-linecap="round"/>
<path d="M501.5,963.2 L543.2,970.6 L543.2,982.6 L501.5,973.6 C498.5,972.6 498.5,964.2 501.5,963.2 Z" fill="#fff" stroke="#000" stroke-width="1.8" stroke-linejoin="round"/><path d="M502.9,973.4 L504.7,964.5 M508.1,974.5 L509.9,965.4 M513.3,975.6 L515.1,966.3 M518.5,976.7 L520.3,967.2 M523.8,977.9 L525.6,968.2 M529.0,979.0 L530.8,969.1 M534.2,980.1 L536.0,970.0 M539.4,981.2 L541.2,970.9" stroke="#000" stroke-width="2.3" stroke-linecap="round"/>
<path d="M544,910.6 L602,745.1 L619,748.4 L558.8,914.2 Z" fill="#fff" stroke="#000" stroke-width="1.9" stroke-linejoin="round"/>
<path d="M543.3,910.7 L558.8,914.2 L559.4,1126 L543.2,1122.6 Z" fill="#fff" stroke="#000" stroke-width="1.9" stroke-linejoin="round"/>
<path d="M558.8,914.2 L619,748.4 L618.8,960.2 L559.4,1126 Z" fill="#fff" stroke="#000" stroke-width="1.9" stroke-linejoin="round"/>
<g clip-path="url(#sideclip)"><path d="M619,775.5 L559,941.5 M619,802.5 L559,968.5 M619,829.5 L559,995.5 M619,856.5 L559,1022.5 M619,883.5 L559,1049.5 M619,910.5 L559,1076.5 M619,937.5 L559,1103.5 M575,870.1 L575,897.2 M605,787.1 L605,814.2 M590,855.7 L590,882.7 M575,924.2 L575,951.2 M605,841.2 L605,868.2 M590,909.7 L590,936.7 M575,978.2 L575,1005.2 M605,895.2 L605,922.2 M590,963.7 L590,990.7 M575,1032.2 L575,1059.2 M605,949.2 L605,976.2 M590,1017.7 L590,1040.4" fill="none" stroke="#000" stroke-linejoin="round" stroke-linecap="round" stroke-width="1.4"/></g>
<path d="M545.1,873 L555.3,874.6" fill="none" stroke="#000" stroke-linejoin="round" stroke-linecap="round" stroke-width="1.4"/>
<path d="M583.5,902 L597,905 L597,990 L583.5,1027 Z" fill="#fff" stroke="none"/>
<path d="M583.6,903 L583.6,1028" stroke="#777" stroke-width="1.2" fill="none"/>
<path d="M596.6,905 L596.6,992" fill="none" stroke="#000" stroke-linejoin="round" stroke-linecap="round" stroke-width="1.3"/>
<path d="M588.5,920 C587.5,915 589.5,908 592.5,905 L594,906 C594,911 592,917 588.5,920 Z" fill="#000" stroke="#000" stroke-width="1"/>
<path d="M588,998 C587.5,991 589.5,982 593.5,977 C595,983 593.5,993 588,998 Z" fill="#000" stroke="#000" stroke-width="1"/>
<path d="M582.4,901.5 L594,865.6 L599.2,864.9 L629.5,870.5 C633.5,871.5 636.5,873.5 637.6,876 C638.8,879 638.7,881 638.2,883 L633.2,898.4 C632,902 630,904.5 627.7,905.8 C625,907 622.5,907.3 619.6,907 L585,901.8 Z" fill="#fff" stroke="#000" stroke-width="1.8" stroke-linejoin="round"/>
<path d="M599.2,865.5 L587.4,900.8 M585,903.5 L619.6,909 C623.5,909.3 627,908.5 629.5,906.5" fill="none" stroke="#000" stroke-linejoin="round" stroke-linecap="round" stroke-width="1.1"/>
<ellipse cx="607.8" cy="886" rx="4.2" ry="3.2" fill="#000"/>
<ellipse cx="607.8" cy="885.6" rx="2" ry="1" fill="#777"/>
<path d="M582,1028 L597,991 L599,992 L629,998 C633,999 636,1001 637,1003 C638.3,1005.5 638.3,1007.5 638,1009 L631,1031 C629.5,1033.5 627,1035 624,1035.5 C621,1036.2 618.5,1036.3 616,1037.5 L584,1029 Z" fill="#fff" stroke="#000" stroke-width="1.8" stroke-linejoin="round"/>
<path d="M599,992 L584.5,1027.5 M582.5,1030.5 L616,1039.5 C620,1040 624,1039 627,1037" fill="none" stroke="#000" stroke-linejoin="round" stroke-linecap="round" stroke-width="1.1"/>
<ellipse cx="608" cy="1014" rx="4" ry="2.9" fill="none" stroke="#000" stroke-width="1.6"/>
<ellipse cx="608" cy="1014" rx="1.6" ry="1" fill="#000"/>
<path d="M587.4,882 L607.8,886 M611,886.6 L721,909.5" fill="none" stroke="#000" stroke-linejoin="round" stroke-linecap="round" stroke-width="1.3"/>
<path d="M685.4,1010.7 L755,811.2 L756.5,807.1 L790,814.5 L780,1020 L711,1186.4 L686,1181.6 Z" fill="#fff" stroke="none"/>
<path d="M686,1181.6 L685.6,1010.7 L755,811.2 L756.5,807.1 L790,814.5 M685.6,1010.7 L714.3,1015.7 M686,1181.6 L711.2,1186.4" fill="none" stroke="#000" stroke-linejoin="round" stroke-linecap="round" stroke-width="1.9"/>
<path d="M710.6,1032 L889,1069 L1019.6,708.5 L1019.4,1020 L957.8,1193 L955,1195 L895,1370 C893,1376 888,1379 883,1378.5 L715.5,1342.4 C712.5,1341.5 710.9,1339.5 710.9,1336 Z" fill="#fff" stroke="none"/>
<path d="M837.9,668.5 L1019.7,708.3 L889,1069 L710.5,1032 Z" fill="#fff" stroke="none"/>
<path d="M710.9,1032 L710.9,1336 C710.9,1339.5 712.5,1341.5 715.5,1342.4 L883,1378.5 C888,1379 892.5,1376 894.3,1372 L894.3,1069.6" fill="none" stroke="#000" stroke-linejoin="round" stroke-linecap="round" stroke-width="1.8"/>
<path d="M716.5,1036 L716.5,1340 M882.6,1073 L882.6,1377" stroke="#555" stroke-width="1" fill="none"/>
<path d="M1019.4,713 L1019.4,1020 L957.8,1193 M955,1195.5 C954.5,1200 953.5,1204 952,1210 L895,1369.5" fill="none" stroke="#000" stroke-linejoin="round" stroke-linecap="round" stroke-width="1.7"/>
<path d="M955.2,885 L955.2,1194 M958.3,888 L958.3,1192" stroke="#000" stroke-width="1.4" fill="none"/>
<path d="M956.75,888 L956.75,1192" stroke="#999" stroke-width="1.6" fill="none"/>
<path d="M952.5,893 L891.5,1063.5 C890,1067.5 887,1069.5 882.5,1068.8 L716,1033.8 C711.5,1032.8 709.5,1030.5 710.5,1027 L836,672.5 C837.5,669.5 840.5,668.3 844.5,668.6 L1014,707 C1018.5,708 1020.3,710.5 1019.4,714 L955.6,884.2" fill="none" stroke="#000" stroke-linejoin="round" stroke-linecap="round" stroke-width="2.2"/>
<path d="M951.6,895 L888.5,1062 C887.5,1064.5 885.8,1065.3 883.5,1064.8 L717.5,1030.3 C715.5,1029.8 714,1028.5 714.5,1026.7 L839.2,677.3 C840.5,674 842.5,672.8 845.5,673.2 L1014.5,711.5 C1016,712 1016.2,713 1015.6,714.8 L954.5,885" fill="none" stroke="#000" stroke-linejoin="round" stroke-linecap="round" stroke-width="1.8"/>
<path d="M1014.8,712 L1016.5,708.5" fill="none" stroke="#000" stroke-linejoin="round" stroke-linecap="round" stroke-width="1"/>
<path d="M839.9,677.5 L840,825.6" fill="none" stroke="#000" stroke-linejoin="round" stroke-linecap="round" stroke-width="1.3"/>
<path d="M740.7,828 L754.2,828 L754.2,837 L740.7,837 Z" fill="#000"/>
<ellipse cx="747.7" cy="845.3" rx="13.2" ry="10" fill="#000"/>
<ellipse cx="747.7" cy="844.5" rx="9" ry="6.2" fill="none" stroke="#fff" stroke-width="0.9" stroke-dasharray="3 2"/>
<ellipse cx="748.5" cy="844.5" rx="3" ry="2.8" fill="#fff"/>
<path d="M748.6,842 L748.6,847" stroke="#000" stroke-width="1.2"/>
<ellipse cx="747.5" cy="819.7" rx="11.4" ry="10.2" fill="#fff" stroke="#000" stroke-width="2"/>
<path d="M736.5,822 C739,829 756,829 758.5,822" fill="none" stroke="#000" stroke-width="1.3"/>
<ellipse cx="747.7" cy="817.5" rx="6.2" ry="4.7" fill="none" stroke="#000" stroke-width="1.6"/>
<path d="M742.8,817.5 H752.6 M747.7,813.8 V821.2" stroke="#000" stroke-width="1.8"/>
<path d="M747.5,855.5 L748.2,908.7" fill="none" stroke="#000" stroke-linejoin="round" stroke-linecap="round" stroke-width="1.4"/>
<ellipse cx="743.7" cy="912.8" rx="6.9" ry="4" fill="#fff" stroke="#000" stroke-width="1.7"/>
<path d="M739.5,913.5 C741,911 746,910.5 748.5,912.5" fill="none" stroke="#000" stroke-width="1.2"/>
<path d="M828.2,843 C828.2,833 838.5,826.2 851.2,826.2 C864,826.2 874.1,833 874.1,843" fill="none" stroke="#000" stroke-width="0.8"/>
<path d="M828.2,843 C828.2,853 838.5,860.2 851.2,860.2 C864,860.2 874.1,853 874.1,843" fill="none" stroke="#000" stroke-width="1.3"/>
<ellipse cx="851" cy="836.4" rx="14.3" ry="10.6" fill="#fff" stroke="#000" stroke-width="1.8"/>
<path d="M828.2,877 L828.2,890 C828.2,900 838.5,907.5 851.2,907.5 C864,907.5 874.1,900 874.1,890 L874.1,877" fill="none" stroke="#000" stroke-linejoin="round" stroke-linecap="round" stroke-width="1.6"/>
<path d="M829,893 C832,900 841,903.5 851.2,903.5" fill="none" stroke="#000" stroke-linejoin="round" stroke-linecap="round" stroke-width="0.9"/>
<path d="M832.2,903.5 L832.2,918 L866,924.5 L870.9,921 L870.9,902" fill="none" stroke="#000" stroke-linejoin="round" stroke-linecap="round" stroke-width="1.6"/>
<path d="M866,908 L866,924.5" fill="none" stroke="#000" stroke-linejoin="round" stroke-linecap="round" stroke-width="1.1"/>
<circle cx="836.7" cy="919.3" r="2.6" fill="#fff" stroke="#000" stroke-width="1.4"/><circle cx="865.6" cy="925.3" r="2.6" fill="#fff" stroke="#000" stroke-width="1.4"/>
<path d="M840,926 L840,932.5" fill="none" stroke="#000" stroke-linejoin="round" stroke-linecap="round" stroke-width="1.2"/>
<path d="M826.4,940 L826.4,993 C826.4,1003 838,1007.8 851,1007.8 C864,1007.8 875.9,1003 875.9,993 L875.9,942 Z" fill="#fff" stroke="#000" stroke-width="1.7" stroke-linejoin="round"/>
<path d="M826.4,996 C828,1004 840,1009.5 851,1009.5 C863,1009.5 874,1005 875.9,998 M827,1000 C830,1007 840,1011.2 851,1011.2 C862,1011.2 872,1007.5 875,1002" fill="none" stroke="#000" stroke-linejoin="round" stroke-linecap="round" stroke-width="1.2"/>
<path d="M826.4,939.5 C826.4,936 829,933.5 832.8,933.5 L872,940 C875,940.5 876.2,942 876.1,944.5 L873,955 C872.2,957.3 870,958 867.5,957.5 L831,951 C828,950.5 826.4,948 826.4,945 Z" fill="#fff" stroke="#000" stroke-width="1.8" stroke-linejoin="round"/>
<path d="M832.5,939.5 L871,945.5 L869.5,952 L831.5,946 Z" fill="#fff" stroke="#000" stroke-width="1.6" stroke-linejoin="round"/>
<path d="M873,955 L873,987" fill="none" stroke="#000" stroke-linejoin="round" stroke-linecap="round" stroke-width="1.1"/>
<path d="M827.8,971.2 C830,980 836,984.5 845,984.8 L863.2,984.7 C866.5,983.5 868.5,980.5 869.6,976.9 M828,971.5 L869.6,977" fill="none" stroke="#000" stroke-linejoin="round" stroke-linecap="round" stroke-width="1.5"/>
<ellipse cx="846.2" cy="979.7" rx="4.3" ry="3" fill="#fff" stroke="#000" stroke-width="1.5"/>
<path d="M802.3,969.8 L826.4,972.7 L826.4,992.5 L796.8,988 C796,987.5 796,986.5 796.8,985.2 Z" fill="#fff" stroke="#000" stroke-width="1.7" stroke-linejoin="round"/>
<path d="M804.5,970.5 L799.5,986.5" fill="none" stroke="#000" stroke-linejoin="round" stroke-linecap="round" stroke-width="1.1"/>
<ellipse cx="815" cy="979" rx="4.3" ry="2.8" fill="#fff" stroke="#000" stroke-width="1.5"/>
<path d="M799.3,989 L800.8,1003 L806,1004" fill="none" stroke="#000" stroke-linejoin="round" stroke-linecap="round" stroke-width="1.4"/>
<path d="M754.5,1037 L755,1012 L761,1009 L766,1012 L765,1024 L760.5,1027" fill="#fff" stroke="#000" stroke-width="1.3"/>
<path d="M875.9,990.4 L901,995.5 M833.5,1005.2 L825,1028.6" fill="none" stroke="#000" stroke-linejoin="round" stroke-linecap="round" stroke-width="1.4"/>
<rect x="802.5" y="991.5" width="8" height="12.5" rx="1.5" fill="#000" transform="rotate(8 806.5 997.7)"/>
<rect x="759.5" y="1010.5" width="8.5" height="12" rx="1.5" fill="#000" transform="rotate(8 763.7 1016.5)"/>
<path d="M789,1025.5 L793.5,1012 L799,1014.5 L795,1027 Z" fill="#000" stroke="#000" stroke-width="1.5" stroke-linejoin="round"/>
<path d="M761.2,1026.5 L792.4,1032.1 L795.5,1027 M757.5,1038 L763,1023 L761,1007 L766,1002" fill="none" stroke="#000" stroke-linejoin="round" stroke-linecap="round" stroke-width="1.4"/>
<ellipse cx="772.6" cy="1035.7" rx="4.2" ry="2.6" fill="#fff" stroke="#000" stroke-width="1.4"/>
<path d="M754.5,1037 L754.5,1014 C754.5,1009 757,1005 760.5,1004.5" fill="none" stroke="#777" stroke-width="1"/>
<path d="M813.6,1027.2 C822,1027.5 829,1031.5 831.5,1038 C833.5,1043 833.5,1049 832.7,1054" fill="#fff" stroke="#000" stroke-width="1.7"/>
<ellipse cx="769.3" cy="986" rx="3.4" ry="12.4" transform="rotate(14 769.3 986)" fill="#fff" stroke="#000" stroke-width="2.4"/>
<ellipse cx="769.6" cy="985" rx="1.2" ry="7" transform="rotate(14 769.6 985)" fill="#888"/>
<path d="M771,988 C785,990 799,1000 805,1015 C808.5,1024 809.3,1034 809.4,1045" fill="none" stroke="#000" stroke-width="7.6" stroke-linecap="butt"/><path d="M771,988 C785,990 799,1000 805,1015 C808.5,1024 809.3,1034 809.4,1045" fill="none" stroke="#fff" stroke-width="4.4" stroke-linecap="butt"/>
<ellipse cx="808.3" cy="1045" rx="6.8" ry="4.4" fill="none" stroke="#000" stroke-width="1.6"/>
<path d="M803.8,1044 L803.8,1048 M812.8,1044 L812.8,1048" stroke="#000" stroke-width="1.2"/>

<!-- texts -->
<g class="t" opacity="0.999">
<text x="113.5" y="190.7" font-size="38.8">A</text>
<text x="280" y="175.4" font-size="38.4">OFF</text>
<text x="446.2" y="142.9" font-size="77">B</text>
<text x="112" y="1533.9" font-size="38.4">C</text>
<text x="280" y="1516.6" font-size="38.4">ON</text>
<path d="M161,293.9 L155.74,293.9 L155.74,260.4 Q153.84,262.2 150.76,264.0 Q147.68,265.8 145.22,266.7 L145.22,261.65 Q149.63,259.6 152.93,256.6 Q156.24,253.7 157.61,250.9 L161,250.9 Z"/>
<text x="201" y="753.9" font-size="62" text-anchor="middle">2</text>
<text x="673.1" y="718.3" font-size="62.5" text-anchor="middle">3</text>
<text x="500.6" y="1448.9" font-size="18.85">Instrukcja montażu / instalation instructions / Montageanleitung</text>
<text x="500.6" y="1474" font-size="19">Kinkiet / Wall lamp / Wandleuchte</text>
</g>
</svg>
</body></html>
